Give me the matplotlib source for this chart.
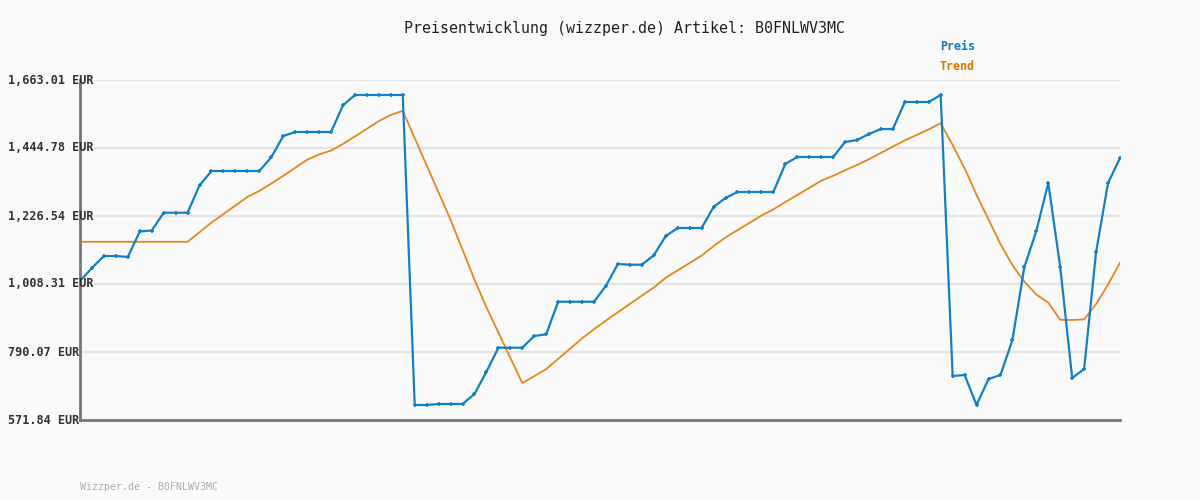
import matplotlib
matplotlib.use('Agg')
import matplotlib.pyplot as plt
import matplotlib.transforms as mtransforms

# price history (EUR), one value per recorded day
preis = [1017.9, 1059.7, 1098.2, 1098.2, 1095.0, 1176.8, 1180.0, 1237.1, 1237.1, 1237.1,
         1325.1, 1371.0, 1371.0, 1371.0, 1371.0, 1371.0, 1414.9, 1483.3, 1496.1, 1496.1,
         1496.1, 1496.1, 1581.8, 1614.9, 1614.9, 1614.9, 1614.9, 1614.9, 620.0, 620.0,
         623.2, 623.2, 623.2, 655.3, 726.8, 803.9, 803.9, 803.9, 841.4, 846.9,
         951.5, 951.5, 951.5, 951.5, 1002.8, 1072.5, 1070.2, 1070.2, 1100.4, 1162.3,
         1188.0, 1188.0, 1188.0, 1255.4, 1284.3, 1303.6, 1303.6, 1303.6, 1303.6, 1393.4,
         1415.9, 1415.9, 1415.9, 1415.9, 1464.0, 1470.4, 1489.7, 1505.7, 1505.7, 1592.4,
         1592.4, 1592.4, 1614.9, 713.0, 716.3, 620.0, 703.4, 716.3, 828.6, 1062.9,
         1178.4, 1332.4, 1062.9, 706.6, 735.5, 1111.0, 1332.4, 1412.7]

trend = [1143.7, 1143.7, 1143.7, 1143.7, 1143.7, 1143.7, 1143.7, 1143.7, 1143.7, 1143.7,
         1174.4, 1205.6, 1232.8, 1260.1, 1287.7, 1307.1, 1330.6, 1355.3, 1381.2, 1407.1,
         1424.2, 1436.7, 1457.7, 1482.1, 1506.5, 1530.9, 1550.9, 1564.1, 1476.5, 1388.9,
         1301.6, 1214.3, 1118.4, 1022.5, 933.6, 852.5, 771.4, 690.3, 712.5, 735.2,
         768.0, 800.8, 833.7, 863.3, 890.9, 917.7, 944.4, 971.0, 996.9, 1028.4,
         1052.1, 1075.7, 1099.4, 1129.8, 1157.9, 1181.0, 1204.4, 1227.7, 1248.0, 1271.2,
         1293.9, 1316.7, 1339.5, 1355.6, 1373.5, 1390.2, 1408.8, 1429.0, 1449.3, 1469.2,
         1486.8, 1504.5, 1524.4, 1454.1, 1379.3, 1294.3, 1215.6, 1136.7, 1069.0, 1016.0,
         974.6, 948.6, 893.4, 892.8, 894.7, 943.8, 1006.7, 1076.3]

y_ticks = [571.84, 790.07, 1008.31, 1226.54, 1444.78, 1663.01]
y_labels = ['571.84 EUR', '790.07 EUR', '1,008.31 EUR', '1,226.54 EUR', '1,444.78 EUR', '1,663.01 EUR']

title = 'Preisentwicklung (wizzper.de) Artikel: B0FNLWV3MC'
footer = 'Wizzper.de - B0FNLWV3MC'

BLUE = '#1280cc'
ORANGE = '#e8871e'
BG = '#fafafa'
MONO = 'DejaVu Sans Mono'

fig = plt.figure(figsize=(12, 5), dpi=100, facecolor=BG)
ax = fig.add_axes([80 / 1200, 80 / 500, 1040 / 1200, 340 / 500], facecolor=BG)

days = list(range(len(preis)))

ax.set_ylim(y_ticks[0], y_ticks[-1])
ax.set_xlim(0, len(preis) - 1)
for t in y_ticks[1:]:
    ax.axhline(t, color='#e4e4e4', lw=1.6, zorder=0)

ax.plot(days, trend, color=ORANGE, lw=1.3, zorder=2)
ax.plot(days, preis, color=BLUE, lw=1.6, marker='+', ms=3, mew=1.2, zorder=3)

for s in ['top', 'right']:
    ax.spines[s].set_visible(False)
for s in ['left', 'bottom']:
    ax.spines[s].set_color('#777777')
    ax.spines[s].set_linewidth(2)
ax.set_xticks([])
ax.set_yticks([])

# y labels sit left-aligned at the image edge, overlapping the axis
trans = mtransforms.blended_transform_factory(fig.transFigure, ax.transData)
for t, lab in zip(y_ticks, y_labels):
    ax.text(8 / 1200, t, lab, transform=trans, ha='left', va='center',
            fontsize=8.5, fontweight='bold', family=MONO, color='#333333', clip_on=False)

fig.text(624 / 1200, 1 - 28 / 500, title, ha='center', va='center',
         fontsize=10.8, family=MONO, color='#222222')
fig.text(940 / 1200, 1 - 47 / 500, 'Preis', ha='left', va='center',
         fontsize=8.4, fontweight='bold', family=MONO, color='#1478c8')
fig.text(940 / 1200, 1 - 67 / 500, 'Trend', ha='left', va='center',
         fontsize=8.4, fontweight='bold', family=MONO, color='#e07800')
fig.text(80 / 1200, 1 - 487 / 500, footer, ha='left', va='center',
         fontsize=7.1, family=MONO, color='#adadad')

fig.savefig('out.png', dpi=100, facecolor=BG)
